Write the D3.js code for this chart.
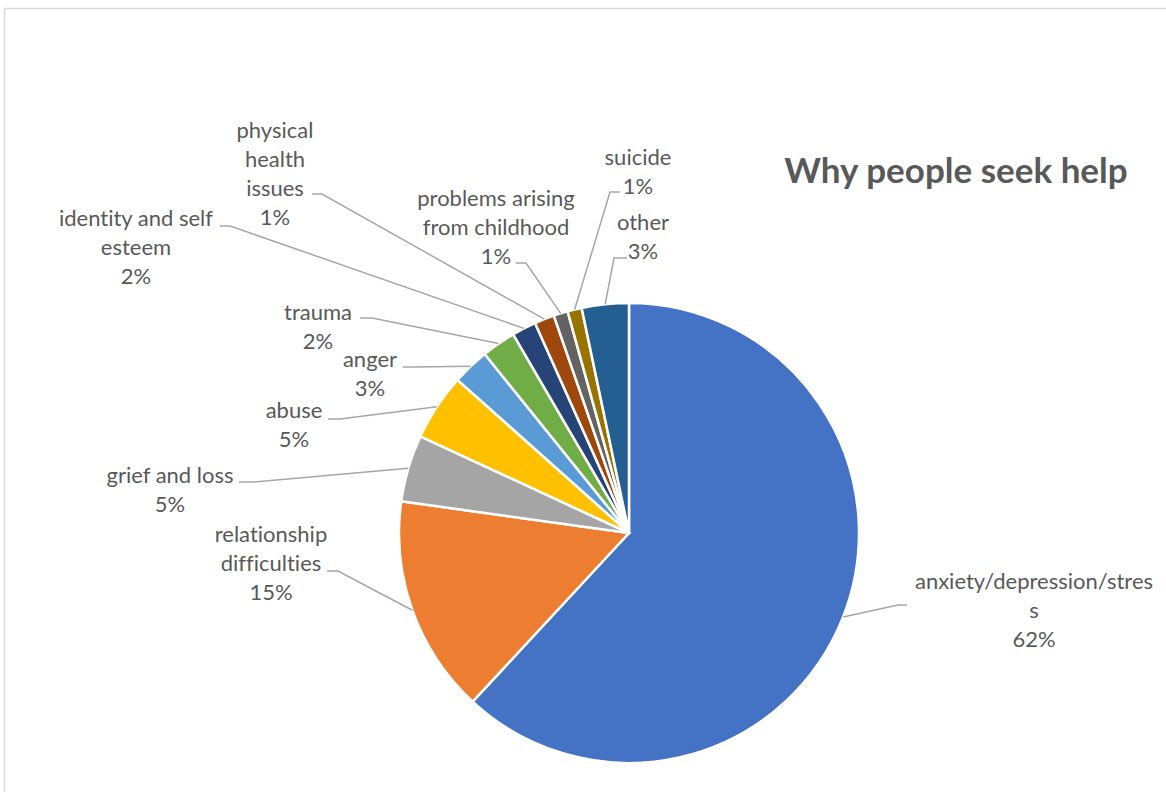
<!DOCTYPE html>
<html>
<head>
<meta charset="utf-8">
<script src="https://cdn.jsdelivr.net/npm/d3@7"></script>
<style>
  html, body { margin: 0; padding: 0; background: #fff; }
  svg { display: block; }
  .lbl { font-family: Lato, "Open Sans", sans-serif; font-size: 22px; fill: #595959; font-variant-ligatures: no-common-ligatures; }
  .title { font-family: Lato, "Open Sans", sans-serif; font-size: 35px; font-weight: bold; fill: #595959; }
</style>
</head>
<body>
<svg id="chart"></svg>
<script>
// slices, clockwise from 12 o'clock
const categories = ['anxiety/depression/stress', 'relationship difficulties', 'grief and loss', 'abuse',
    'anger', 'trauma', 'identity and self esteem', 'physical health issues',
    'problems arising from childhood', 'suicide', 'other'];
const shares = [61.9, 15.3, 4.7, 4.7, 2.6, 2.4, 1.7, 1.4, 1.0, 1.0, 3.3];
const colors = ['#4472C4', '#ED7D31', '#A5A5A5', '#FFC000', '#5B9BD5', '#70AD47',
    '#264478', '#9E480E', '#636363', '#997300', '#255E91'];
// label text as wrapped in the original
const labelLines = [
    ['anxiety/depression/stres', 's'],
    ['relationship', 'difficulties'],
    ['grief and loss'],
    ['abuse'],
    ['anger'],
    ['trauma'],
    ['identity and self', 'esteem'],
    ['physical', 'health', 'issues'],
    ['problems arising', 'from childhood'],
    ['suicide'],
    ['other']
];
const title = 'Why people seek help';

// label placement: text centre x, first baseline, leader start and elbow
const labelPos = [
    { x: 1034, y: 589, lx: 907, ly: 605, ex: 898 },
    { x: 271, y: 542, lx: 327, ly: 571, ex: 338 },
    { x: 170, y: 483, lx: 239, ly: 482, ex: 253 },
    { x: 294, y: 418, lx: 328, ly: 419, ex: 340 },
    { x: 370, y: 367, lx: 403, ly: 367, ex: 415 },
    { x: 318, y: 320, lx: 360, ly: 318, ex: 372 },
    { x: 136, y: 226, lx: 220, ly: 226, ex: 230 },
    { x: 275, y: 138, lx: 312, ly: 194, ex: 322 },
    { x: 496, y: 206, lx: 516, ly: 263, ex: 526 },
    { x: 638, y: 165, lx: 620, ly: 192, ex: 610 },
    { x: 643, y: 230, lx: 627, ly: 258, ex: 614 }
];

const W = 1166, H = 792;
const cx = 629, cy = 533, r = 230;
const lineH = 29;

const svg = d3.select('#chart').attr('width', W).attr('height', H);

// chart area frame
svg.append('rect')
    .attr('x', 4.5).attr('y', 8.5)
    .attr('width', 1300).attr('height', 900)
    .attr('fill', '#fff')
    .attr('stroke', '#d9d9d9')
    .attr('stroke-width', 1.5);

const data = categories.map((c, i) => ({ name: c, value: shares[i], i }));

const pie = d3.pie().sort(null).value(d => d.value).startAngle(0).endAngle(2 * Math.PI);
const arcs = pie(data);
const arc = d3.arc().innerRadius(0).outerRadius(r);

const g = svg.append('g').attr('transform', `translate(${cx},${cy})`);

g.selectAll('path')
    .data(arcs)
    .enter()
    .append('path')
    .attr('d', arc)
    .attr('fill', d => colors[d.data.i])
    .attr('stroke', '#fff')
    .attr('stroke-width', 2.5)
    .attr('stroke-linejoin', 'round');

// leader lines
arcs.forEach(a => {
    const p = labelPos[a.data.i];
    const mid = (a.startAngle + a.endAngle) / 2;
    const endX = cx + Math.sin(mid) * r;
    const endY = cy - Math.cos(mid) * r;
    svg.append('path')
        .attr('d', d3.line()([[p.lx, p.ly], [p.ex, p.ly], [endX, endY]]))
        .attr('fill', 'none')
        .attr('stroke', '#a6a6a6')
        .attr('stroke-width', 1.5);
});

// labels
arcs.forEach(a => {
    const i = a.data.i;
    const p = labelPos[i];
    const lines = labelLines[i].concat([Math.round(shares[i]) + '%']);
    const t = svg.append('text')
        .attr('class', 'lbl')
        .attr('text-anchor', 'middle');
    lines.forEach((s, k) => {
        t.append('tspan')
            .attr('x', p.x)
            .attr('y', p.y + k * lineH)
            .text(s);
    });
});

svg.append('text')
    .attr('class', 'title')
    .attr('x', 956)
    .attr('y', 183)
    .attr('text-anchor', 'middle')
    .text(title);
</script>
</body>
</html>
